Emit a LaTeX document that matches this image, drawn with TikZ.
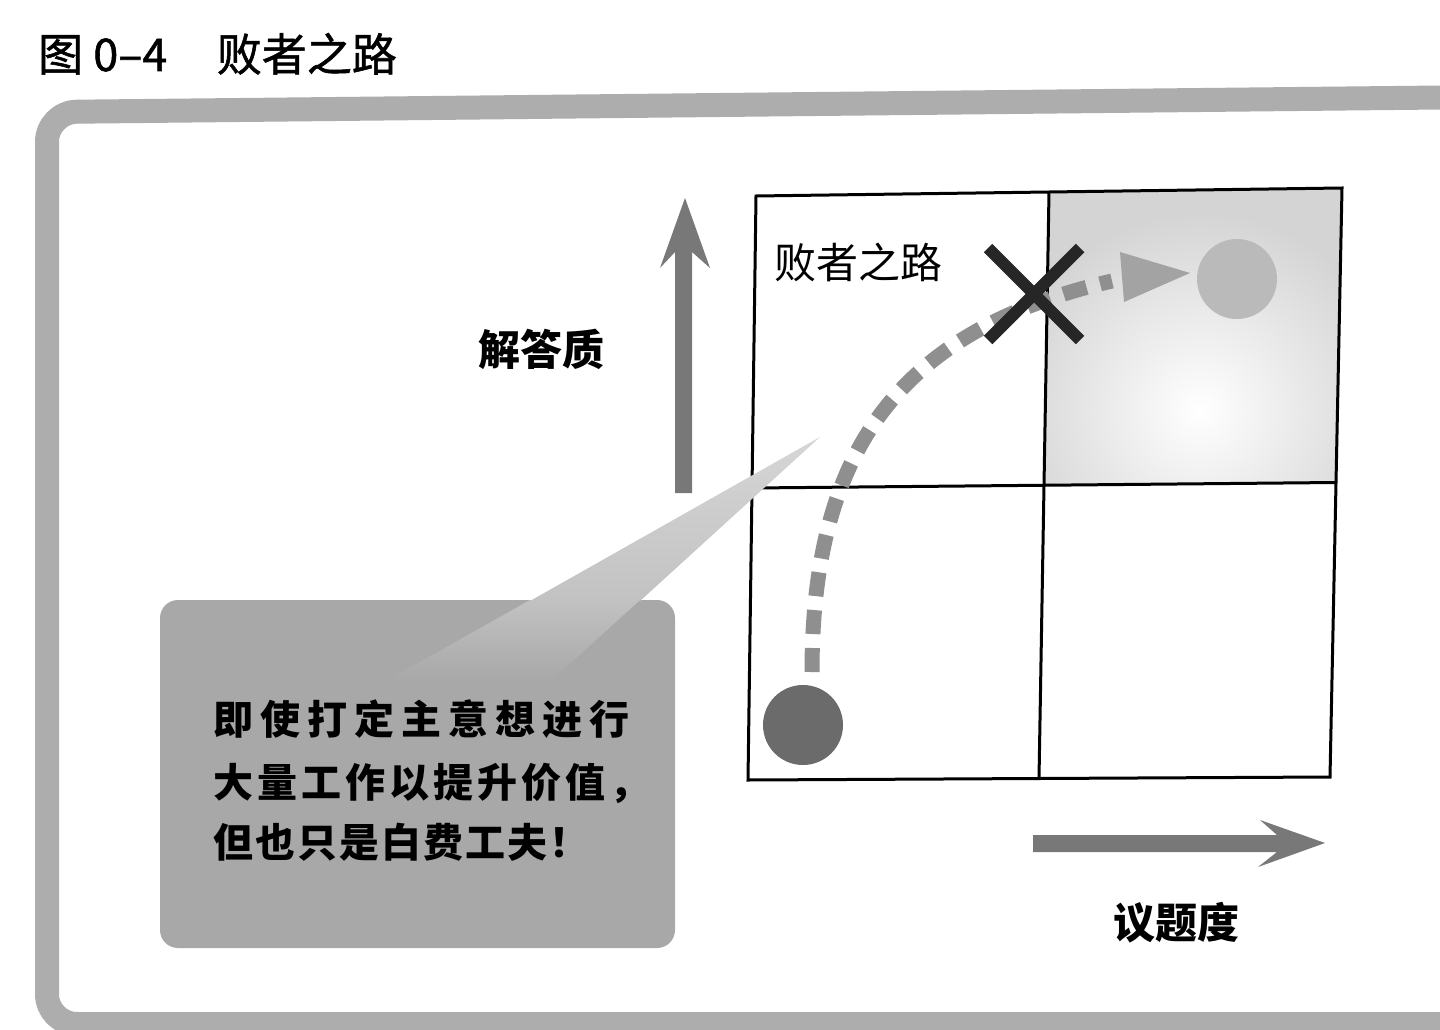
\documentclass[tikz,border=0pt]{standalone}
\usepackage{fontspec}
\newfontfamily\cjk{Noto Sans CJK SC}
\usetikzlibrary{calc,shapes.misc}
\definecolor{framegray}{gray}{0.68}
\definecolor{boxgray}{gray}{0.66}
\definecolor{tailhi}{gray}{0.84}
\definecolor{tailmid}{gray}{0.76}
\definecolor{axisgray}{gray}{0.47}
\definecolor{dashgray}{gray}{0.56}
\definecolor{darkdot}{gray}{0.42}
\definecolor{lightdot}{gray}{0.73}
\definecolor{trigray}{gray}{0.64}
\definecolor{cellgray}{gray}{0.83}
\definecolor{xcol}{gray}{0.15}
\tikzset{
  lbl/.style={inner sep=0pt, anchor=base west, font=\cjk\bfseries\fontsize{42}{42}\selectfont},
  msgline/.style={inner sep=0pt, anchor=base west, font=\cjk\bfseries\fontsize{40}{40}\selectfont},
  dot/.style={circle, inner sep=0pt, minimum size=80pt},
  gridline/.style={line width=3pt, black},
}
\begin{document}
\begin{tikzpicture}[x=1pt,y=-1pt]
\useasboundingbox (0,0) rectangle (1440,1030);
\clip (0,0) rectangle (1440,1030);
\fill[white] (0,0) rectangle (1440,1030);

% title
\node[inner sep=0pt, anchor=base west, font=\cjk\fontsize{45}{45}\selectfont\addfontfeature{FakeBold=1.2}] (title) at (38,71) {图 0–4\hspace{1.1em}败者之路};

% frame
\draw[framegray, line width=24pt, rounded corners=30pt]
  (1490,1024) -- (47,1024) -- (47,112) -- (1490,97);

% grid corners
\coordinate (TL) at (756,196);
\coordinate (TR) at (1342,188);
\coordinate (BR) at (1330,777);
\coordinate (BL) at (748,780);
\coordinate (TM) at ($(TL)!0.5!(TR)$);
\coordinate (BM) at ($(BL)!0.5!(BR)$);
\coordinate (LM) at ($(TL)!0.5!(BL)$);
\coordinate (RM) at ($(TR)!0.5!(BR)$);
\coordinate (C) at ($(LM)!0.5!(RM)$);

% shaded top-right cell
\begin{scope}
  \clip (TM) -- (TR) -- (RM) -- (C) -- cycle;
  \fill[cellgray] (TM) -- (TR) -- (RM) -- (C) -- cycle;
  \shade[inner color=white, outer color=cellgray] (1200,410) circle (200);
\end{scope}

\draw[gridline] (TL) -- (TR) -- (BR) -- (BL) -- cycle;
\draw[gridline] (TM) -- (BM);
\draw[gridline] (LM) -- (RM);

% axes
\fill[axisgray] (675,493) -- (675,252) -- (660,268) -- (685,198) -- (710,268) -- (692,252) -- (692,493) -- cycle;
\fill[axisgray] (1033,835) -- (1277,835) -- (1260,820) -- (1325,843) -- (1258,867) -- (1277,852) -- (1033,852) -- cycle;

\node[lbl] (quality) at (478,365) {解答质};
\node[lbl] (issue) at (1113,938) {议题度};
\node[inner sep=0pt, anchor=base west, font=\cjk\fontsize{42}{42}\selectfont] (road) at (774,278) {败者之路};

% callout
\fill[boxgray, rounded corners=18pt] (160,600) rectangle (675,948);
\shade[top color=tailhi, bottom color=tailmid] (530,601) -- (820,437) -- (640,601) -- cycle;
\shade[top color=tailmid, bottom color=boxgray] (530,600) -- (640,600) -- (552,680) -- (388,680) -- cycle;
\node[msgline, font=\cjk\bfseries\fontsize{40}{40}\selectfont\addfontfeature{LetterSpace=17.5}] (msg1) at (213,734) {即使打定主意想进行};
\node[msgline, font=\cjk\bfseries\fontsize{40}{40}\selectfont\addfontfeature{LetterSpace=10}] (msg2) at (213,797) {大量工作以提升价值，};
\node[msgline, font=\cjk\bfseries\fontsize{40}{40}\selectfont\addfontfeature{LetterSpace=5}] (msg3) at (213,857) {但也只是白费工夫！};

% path of the loser
\node[dot, fill=darkdot] (start) at (803,725) {};
\node[dot, fill=lightdot] (goal) at (1237,279) {};
\coordinate (cs) at (812,672);
\coordinate (ce) at (1112,281);
\draw[dashgray, line width=15pt, dash pattern=on 24pt off 14pt]
  (cs) .. controls (812,450) and (900,330) .. (ce);
\fill[trigray] (1120,252) -- (1190,273) -- (1124,302) -- cycle;
\node[cross out, draw=xcol, line width=12pt, minimum size=80pt, inner sep=0pt] (fail) at (1034,294) {};
\end{tikzpicture}
\end{document}
